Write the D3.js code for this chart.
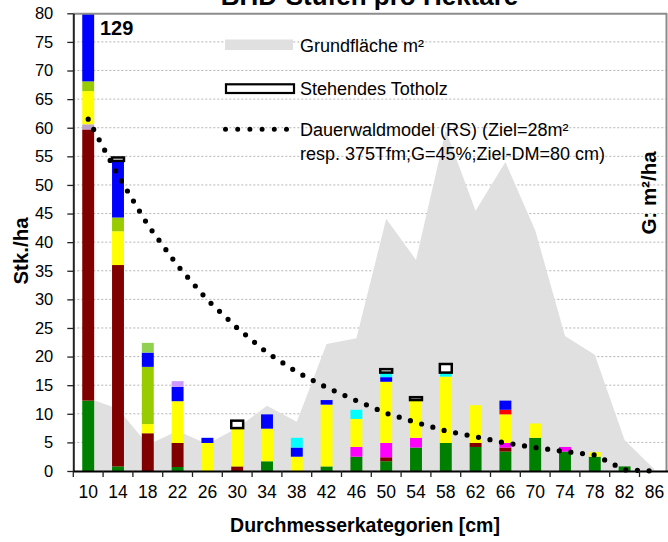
<!DOCTYPE html>
<html><head><meta charset="utf-8">
<script src="https://cdn.jsdelivr.net/npm/d3@7/dist/d3.min.js"></script>
<style>body{margin:0;background:#fff}svg{display:block}</style>
</head><body><svg id="c" width="668" height="542"></svg>
<script>
// ---- data ----
const categories = ["10","14","18","22","26","30","34","38","42","46","50","54","58","62","66","70","74","78","82","86"];
const yTicks = [0,5,10,15,20,25,30,35,40,45,50,55,60,65,70,75,80];
// stacked series (Stk./ha), bottom to top
const green     = [12.3,0.8,0,0.7,0,0,1.7,0,0.8,2.5,1.7,4.1,4.9,4.2,3.4,5.8,3.4,2.5,0.8,0];
const darkred   = [47.4,35.2,6.6,4.2,0,0.8,0,0,0,0,0.7,0,0,0.7,0.7,0,0,0,0,0];
const mauve     = [0.9,0,0,0,0,0,0,0,0,0,0,0,0,0,0,0,0,0,0,0];
const magenta   = [0,0,0,0,0,0,0,0,0,1.7,2.5,1.7,0,0,0.8,0,0.8,0,0,0];
const yellow    = [5.8,5.9,1.6,7.3,4.9,6.7,5.7,2.5,10.8,4.9,10.7,6.6,11.6,6.6,5.0,2.5,0,0.8,0,0];
const red       = [0,0,0,0,0,0,0,0,0,0,0,0,0,0,0.8,0,0,0,0,0];
const olive     = [1.7,2.4,10.0,0,0,0,0,0,0,0,0,0,0,0,0,0,0,0,0,0];
const blue      = [60.9,9.9,2.5,2.5,0.9,0,2.5,1.6,0.8,0,0.8,0,0,0,1.6,0,0,0,0,0];
const lightgreen= [0,0,1.7,0,0,0,0,0,0,0,0,0,0,0,0,0,0,0,0,0];
const lavender  = [0,0,0,1.0,0,0,0,0,0,0,0,0,0,0,0,0,0,0,0,0];
const cyan      = [0,0,0,0,0,0,0,1.7,0,1.6,0.8,0,0.7,0,0,0,0,0,0,0];
const totholz   = [0,0.6,0,0,0,1.3,0,0,0,0,0.6,0.5,1.5,0,0,0,0,0,0,0];
// Grundfläche (drawn on the Stk./ha scale equivalent)
const grundflaeche = [12.7,10.9,4.6,7.0,4.7,7.5,11.4,8.6,22.2,23.2,44.1,36.9,59.5,45.5,54.0,42.1,23.6,20.3,5.4,0.3];
// Dauerwaldmodel
const dauerwald = [61.5,51.7,43.0,35.9,29.9,25.0,20.7,17.3,14.6,12.3,10.1,8.5,7.0,6.0,4.9,4.1,3.4,2.8,0.2,0];
const total10Label = "129";

const seriesKeys = ["green","darkred","mauve","magenta","yellow","red","olive","blue","lightgreen","lavender","cyan","totholz"];
const seriesData = {green,darkred,mauve,magenta,yellow,red,olive,blue,lightgreen,lavender,cyan,totholz};
const colors = {green:"#008000",darkred:"#800000",mauve:"#BBA3C9",magenta:"#FF00FF",yellow:"#FFFF00",red:"#FF0000",
  olive:"#99CC00",blue:"#0000FF",lightgreen:"#92D050",lavender:"#CC99FF",cyan:"#00FFFF",totholz:"#FFFFFF"};

// ---- layout ----
const L = 73.3, R = 669.3, T = 13.3, B = 471;
const svg = d3.select("#c");
const x = d3.scaleBand().domain(categories).range([L, R]).paddingInner(0.6).paddingOuter(0.3);
const y = d3.scaleLinear().domain([0, 80]).range([B, T]);
const cx = c => x(c) + x.bandwidth() / 2;

svg.append("defs").append("clipPath").attr("id","plot")
  .append("rect").attr("x", L).attr("y", T).attr("width", 667 - L).attr("height", B - T);

// gridlines
svg.append("g").selectAll("line").data(yTicks.filter(v => v > 0 && v < 80)).join("line")
  .attr("x1", L).attr("x2", 667).attr("y1", d => y(d)).attr("y2", d => y(d))
  .attr("stroke", "#b4b4b4").attr("stroke-width", 1).attr("stroke-dasharray", "2,2");

const plot = svg.append("g").attr("clip-path", "url(#plot)");

// grey area
plot.append("path").datum(grundflaeche)
  .attr("d", d3.area().x((d, i) => cx(categories[i])).y0(y(0)).y1(d => y(d)))
  .attr("fill", "#e0e0e0");

// stacked bars
const rows = categories.map((c, i) => { const o = {cat: c}; seriesKeys.forEach(k => o[k] = seriesData[k][i]); return o; });
const stacked = d3.stack().keys(seriesKeys)(rows);
stacked.forEach(s => {
  const isT = s.key === "totholz";
  plot.append("g").selectAll("rect").data(s.filter(d => d[1] - d[0] > 0)).join("rect")
    .attr("x", d => x(d.data.cat)).attr("width", x.bandwidth())
    .attr("y", d => y(d[1])).attr("height", d => y(d[0]) - y(d[1]))
    .attr("fill", colors[s.key])
    .attr("stroke", isT ? "#000" : "none").attr("stroke-width", isT ? 2.5 : 0);
});

// Dauerwald dotted line
svg.append("path").datum(dauerwald)
  .attr("d", d3.line().x((d, i) => cx(categories[i])).y(d => y(d)))
  .attr("fill", "none").attr("stroke", "#000").attr("stroke-width", 5.2)
  .attr("stroke-linecap", "round").attr("stroke-dasharray", "0 11.7");

// label 129
svg.append("text").attr("x", 100).attr("y", 35).text(total10Label)
  .attr("font-family", "'Liberation Sans Narrow','Arial Narrow',sans-serif").attr("font-weight", "bold")
  .attr("font-size", 20).attr("fill", "#000");

// borders top & right
svg.append("line").attr("x1", L).attr("x2", 667).attr("y1", 13.8).attr("y2", 13.8).attr("stroke", "#8c8c8c").attr("stroke-width", 2);
svg.append("line").attr("x1", 666.5).attr("x2", 666.5).attr("y1", 13).attr("y2", B).attr("stroke", "#8c8c8c").attr("stroke-width", 2);

// y axis
const yAxis = svg.append("g").attr("transform", `translate(${L},0)`)
  .call(d3.axisLeft(y).tickValues(yTicks).tickSize(6).tickSizeOuter(0).tickPadding(14));
yAxis.select(".domain").attr("stroke", "#222").attr("stroke-width", 2);
yAxis.selectAll(".tick line").attr("stroke", "#222").attr("stroke-width", 1.3);
yAxis.selectAll("text").attr("font-family", "'Liberation Sans',Arial,sans-serif").attr("font-size", 16.5).attr("fill", "#000");

// x axis
const xAxis = svg.append("g").attr("transform", `translate(0,${B})`)
  .call(d3.axisBottom(x).tickSize(0).tickSizeOuter(0).tickPadding(0));
xAxis.select(".domain").attr("stroke", "#000").attr("stroke-width", 2);
xAxis.selectAll("text").attr("y", 26.7).attr("dy", 0)
  .attr("font-family", "'Liberation Sans',Arial,sans-serif").attr("font-size", 17.5).attr("fill", "#000");
const bounds = categories.map(c => x(c) - x.step() * x.paddingInner() / 2);
xAxis.append("g").selectAll("line").data(bounds).join("line")
  .attr("x1", d => d).attr("x2", d => d).attr("y1", 0).attr("y2", 6)
  .attr("stroke", "#222").attr("stroke-width", 1.3);

// titles
const font = "'Liberation Sans',Arial,sans-serif";
svg.append("text").attr("x", 369.5).attr("y", 4.5).attr("text-anchor", "middle")
  .attr("font-family", font).attr("font-weight", "bold").attr("font-size", 26).text("BHD-Stufen pro Hektare");
svg.append("text").attr("x", 365).attr("y", 532).attr("text-anchor", "middle")
  .attr("font-family", font).attr("font-weight", "bold").attr("font-size", 19.5).text("Durchmesserkategorien [cm]");
svg.append("text").attr("transform", "translate(28,251) rotate(-90)").attr("text-anchor", "middle")
  .attr("font-family", font).attr("font-weight", "bold").attr("font-size", 20.5).text("Stk./ha");
svg.append("text").attr("transform", "translate(656,193) rotate(-90)").attr("text-anchor", "middle")
  .attr("font-family", font).attr("font-weight", "bold").attr("font-size", 20.5).text("G: m²/ha");

// legend
const lg = svg.append("g").attr("font-family", font).attr("font-size", 18).attr("fill", "#000");
lg.append("rect").attr("x", 225).attr("y", 39.5).attr("width", 68).attr("height", 10.5).attr("fill", "#e0e0e0");
lg.append("text").attr("x", 300).attr("y", 51.5).text("Grundfläche m²");
lg.append("rect").attr("x", 226).attr("y", 84.3).attr("width", 68).attr("height", 8.7)
  .attr("fill", "#fff").attr("stroke", "#000").attr("stroke-width", 2.2);
lg.append("text").attr("x", 300).attr("y", 95).text("Stehendes Totholz");
lg.append("line").attr("x1", 225.5).attr("x2", 287).attr("y1", 129.3).attr("y2", 129.3)
  .attr("stroke", "#000").attr("stroke-width", 5).attr("stroke-linecap", "round").attr("stroke-dasharray", "0 12.2");
lg.append("text").attr("x", 300).attr("y", 135.5).text("Dauerwaldmodel (RS) (Ziel=28m²");
lg.append("text").attr("x", 300).attr("y", 159.5).text("resp. 375Tfm;G=45%;Ziel-DM=80 cm)");
</script></body></html>
